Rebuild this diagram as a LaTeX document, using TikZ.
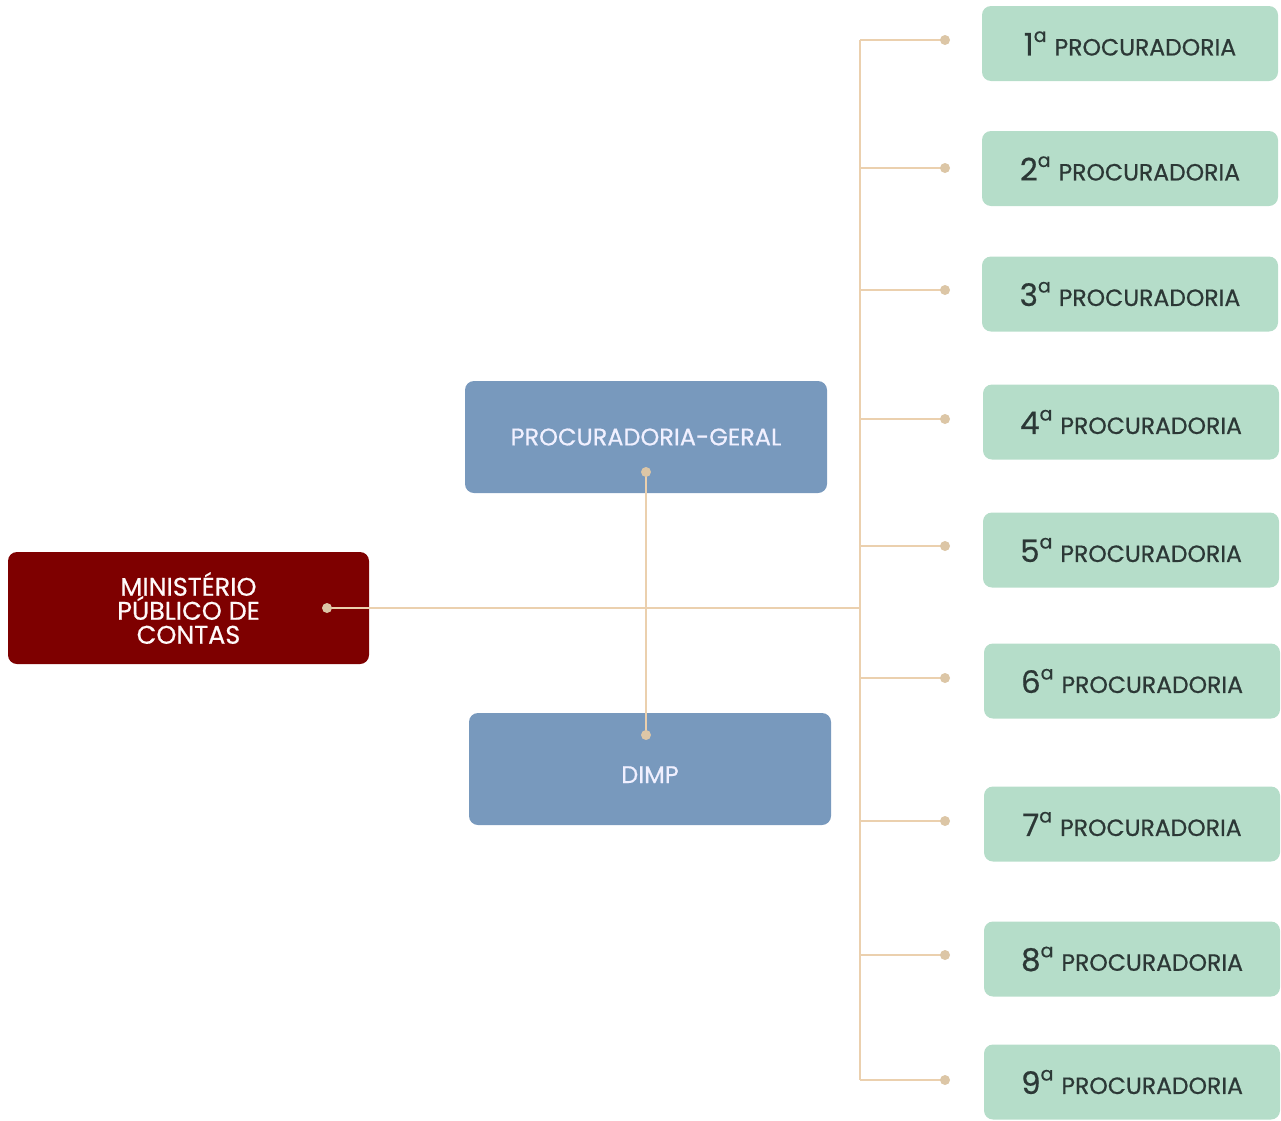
\documentclass[tikz,border=0pt]{standalone}
\usepackage{fontspec}
\setmainfont{Poppins}[FakeBold=0.6]
\definecolor{mpcred}{HTML}{7E0000}
\definecolor{pgblue}{HTML}{7899BD}
\definecolor{procgreen}{HTML}{B5DDC9}
\definecolor{linetan}{HTML}{EBD0AE}
\definecolor{dottan}{HTML}{DCC6A6}
\definecolor{darktext}{HTML}{2C3836}
\begin{document}
\begin{tikzpicture}[x=1pt,y=-1pt,
  box/.style={rounded corners=9pt, inner sep=0pt, align=center},
  mpcbox/.style={box, fill=mpcred, text=white!90!pink, minimum width=361pt, minimum height=112pt, font=\fontsize{25.5}{24}\selectfont},
  bluebox/.style={box, fill=pgblue, text=white!94!blue, minimum width=362pt, minimum height=112pt, font=\fontsize{24}{24}\selectfont},
  procbox/.style={box, fill=procgreen, text=darktext, minimum width=296pt, minimum height=75pt, font=\fontsize{23.5}{24}\selectfont},
  conn/.style={draw=linetan, line width=2.2pt},
  dotc/.style={circle, fill=dottan, inner sep=0pt, minimum size=10pt}
]
\useasboundingbox (0,0) rectangle (1281,1120);
\newcommand{\procl}[1]{{\fontsize{31}{30}\selectfont #1}\raisebox{1.05ex}{\fontsize{19}{19}\selectfont a}\hspace{8pt}PROCURADORIA}

% boxes
\node[mpcbox] (mpc) at (188.5,608) {MINISTÉRIO\\PÚBLICO DE\\CONTAS};
\node[bluebox] (pg) at (646,437) {PROCURADORIA-GERAL};
\node[bluebox] (dimp) at (650,769) {\raisebox{-14pt}[0pt][0pt]{DIMP}};

\node[procbox] (p1) at (1130,43.5) {\procl{1}};
\node[procbox] (p2) at (1130,168.5) {\procl{2}};
\node[procbox] (p3) at (1130,294) {\procl{3}};
\node[procbox] (p4) at (1131,422) {\procl{4}};
\node[procbox] (p5) at (1131,550) {\procl{5}};
\node[procbox] (p6) at (1132,681) {\procl{6}};
\node[procbox] (p7) at (1132,824) {\procl{7}};
\node[procbox] (p8) at (1132,959) {\procl{8}};
\node[procbox] (p9) at (1132,1082) {\procl{9}};

% connector points
\coordinate (mpcdot) at (327,608);
\coordinate (pgdot) at (646,472);
\coordinate (dimpdot) at (646,735);
\coordinate (busmid) at (860,608);
\coordinate (bustop) at (860,40);
\coordinate (busbot) at (860,1080);
\foreach \i/\y in {1/40,2/168,3/290,4/419,5/546,6/678,7/821,8/955,9/1080}{
  \coordinate (b\i) at (860,\y);
  \coordinate (e\i) at (945,\y);
}

% connectors
\draw[conn] (mpcdot) -- (busmid);
\draw[conn] (pgdot) -- (dimpdot);
\draw[conn] (bustop) -- (busbot);
\foreach \i in {1,...,9}{
  \draw[conn] (b\i) -- (e\i);
  \node[dotc] at (e\i) {};
}
\node[dotc] at (mpcdot) {};
\node[dotc] at (pgdot) {};
\node[dotc] at (dimpdot) {};
\end{tikzpicture}
\end{document}
